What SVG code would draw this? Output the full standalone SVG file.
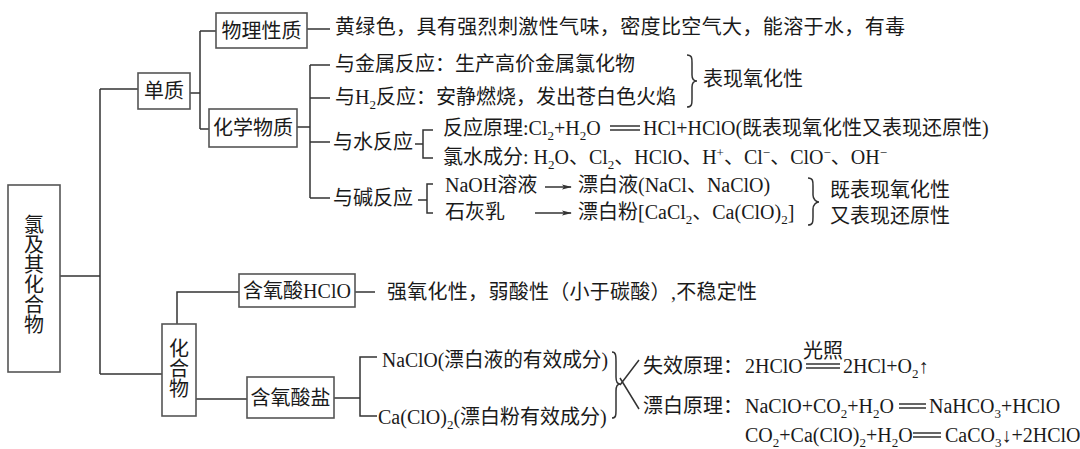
<svg xmlns="http://www.w3.org/2000/svg" width="1080" height="449" viewBox="0 0 1080 449">
<style>
text{font-family:'Liberation Serif','Noto Sans CJK SC',serif;font-size:20px;fill:#1a1a1a}
.box{fill:#fff;stroke:#555;stroke-width:1.6}
.ln{fill:none;stroke:#333;stroke-width:1.5}
.sm{font-size:13px}
.mid{text-anchor:middle}
</style>
<defs>
<marker id="ah" markerWidth="10" markerHeight="6" refX="9" refY="3" orient="auto" markerUnits="userSpaceOnUse"><path d="M0,0.5 L10,3 L0,5.5 L2,3 z" fill="#333"/></marker>
</defs>
<rect width="1080" height="449" fill="#fff"/>
<g id="connectors" class="ln">
<path d="M60,276 H100 M100,89 V374 M100,89 H138 M100,374 H162"/>
<path d="M190,93 H200 M200,31 V129 M200,31 H216 M200,129 H209"/>
<path d="M307,29 H330"/>
<path d="M297,127 H310 M310,65 V198 M310,65 H330 M310,98 H330 M310,142 H330 M310,198 H330"/>
<path d="M415,144 H423 M433,130 H423 V158 H433"/>
<path d="M418,200 H427 M433,184 H427 V213 H433"/>
<path d="M545,187 H571" marker-end="url(#ah)"/>
<path d="M535,213 H571" marker-end="url(#ah)"/>
<path d="M177,324 V292 H239"/>
<path d="M355,292 H375"/>
<path d="M196,399 H247"/>
<path d="M334,398 H360 M377,357 H360 V416 H377"/>
<path d="M687,55 C692,55 692,58 692,63 L692,75 C692,79 694,81 697,81 C694,81 692,83 692,87 L692,99 C692,104 692,107 687,107"/>
<path d="M808,178 C813,178 813,181 813,186 L813,195 C813,199 816,202 819,202 C816,202 813,205 813,209 L813,217 C813,222 813,225 808,225"/>
<path d="M612,352 C616,352 616,356 616,362 L616,377 C616,381 617,384 620,384 C617,384 616,387 616,391 L616,410 C616,415 616,418 612,418"/>
<path d="M639,360 L620,385 M620,378 L639,409"/>
</g>
<g id="equals" class="ln" stroke-width="1.3">
<path d="M610,126 H640 M610,130 H640"/>
<path d="M806,364 H840 M806,368 H840"/>
<path d="M899,404 H926 M899,408 H926"/>
<path d="M913,433 H941 M913,437 H941"/>
</g>
<g id="n-root"><rect class="box" x="8" y="185" width="52" height="187"/>
<text class="mid"><tspan x="34" y="232">氯</tspan><tspan x="34" y="252">及</tspan><tspan x="34" y="272">其</tspan><tspan x="34" y="292">化</tspan><tspan x="34" y="312">合</tspan><tspan x="34" y="332">物</tspan></text></g>
<g id="n-danzhi"><rect class="box" x="138" y="73" width="52" height="36"/><text class="mid" x="164" y="98">单质</text></g>
<g id="n-wuli"><rect class="box" x="216" y="13" width="91" height="35"/><text class="mid" x="261.5" y="38">物理性质</text></g>
<g id="n-huaxue"><rect class="box" x="209" y="109" width="88" height="38"/><text class="mid" x="253" y="135">化学物质</text></g>
<g id="n-huahewu"><rect class="box" x="162" y="324" width="34" height="92"/>
<text class="mid"><tspan x="179" y="356">化</tspan><tspan x="179" y="376">合</tspan><tspan x="179" y="396">物</tspan></text></g>
<g id="n-hclo"><rect class="box" x="239" y="274" width="116" height="33"/><text class="mid" x="297" y="298">含氧酸HClO</text></g>
<g id="n-yan"><rect class="box" x="247" y="377" width="87" height="41"/><text class="mid" x="290.5" y="405">含氧酸盐</text></g>
<g id="t-phys"><text x="335" y="34" textLength="570" lengthAdjust="spacing">黄绿色，具有强烈刺激性气味，密度比空气大，能溶于水，有毒</text></g>
<g id="t-metal"><text x="335" y="71">与金属反应：生产高价金属氯化物</text></g>
<g id="t-h2"><text x="335" y="104">与H<tspan class="sm" dy="5">2</tspan><tspan dy="-5">反应：安静燃烧，发出苍白色火焰</tspan></text></g>
<g id="t-ox"><text x="703" y="86">表现氧化性</text></g>
<g id="t-water"><text x="333" y="149">与水反应</text>
<text x="443" y="135">反应原理:Cl<tspan class="sm" dy="5">2</tspan><tspan dy="-5">+H</tspan><tspan class="sm" dy="5">2</tspan><tspan dy="-5">O</tspan></text>
<text x="643" y="135">HCl+HClO(既表现氧化性又表现还原性)</text>
<text x="443" y="164">氯水成分: H<tspan class="sm" dy="5">2</tspan><tspan dy="-5">O、Cl</tspan><tspan class="sm" dy="5">2</tspan><tspan dy="-5">、HClO、H</tspan><tspan class="sm" dy="-7">+</tspan><tspan dy="7">、Cl</tspan><tspan class="sm" dy="-7">−</tspan><tspan dy="7">、ClO</tspan><tspan class="sm" dy="-7">−</tspan><tspan dy="7">、OH</tspan><tspan class="sm" dy="-7">−</tspan></text></g>
<g id="t-base"><text x="333" y="205">与碱反应</text>
<text x="445" y="192">NaOH溶液</text>
<text x="578" y="192">漂白液(NaCl、NaClO)</text>
<text x="445" y="219">石灰乳</text>
<text x="578" y="219">漂白粉[CaCl<tspan class="sm" dy="5">2</tspan><tspan dy="-5">、Ca(ClO)</tspan><tspan class="sm" dy="5">2</tspan><tspan dy="-5">]</tspan></text>
<text x="830" y="197">既表现氧化性</text>
<text x="830" y="223">又表现还原性</text></g>
<g id="t-hclo"><text x="387" y="299" textLength="370" lengthAdjust="spacing">强氧化性，弱酸性（小于碳酸）,不稳定性</text></g>
<g id="t-naclo"><text x="382" y="367" textLength="226" lengthAdjust="spacingAndGlyphs">NaClO(漂白液的有效成分)</text></g>
<g id="t-caclo"><text x="378" y="424">Ca(ClO)<tspan class="sm" dy="5">2</tspan><tspan dy="-5">(漂白粉有效成分)</tspan></text></g>
<g id="t-fail"><text x="643" y="373">失效原理：</text>
<text x="745" y="373" font-size="18">2HClO</text>
<text class="mid" x="823" y="358" font-size="15">光照</text>
<text x="843" y="373">2HCl+O<tspan class="sm" dy="5">2</tspan><tspan dy="-5">↑</tspan></text></g>
<g id="t-bleach"><text x="643" y="413">漂白原理：</text>
<text x="745" y="413">NaClO+CO<tspan class="sm" dy="5">2</tspan><tspan dy="-5">+H</tspan><tspan class="sm" dy="5">2</tspan><tspan dy="-5">O</tspan></text>
<text x="929" y="413" font-size="19">NaHCO<tspan class="sm" dy="5">3</tspan><tspan dy="-5">+HClO</tspan></text>
<text x="745" y="442" font-size="18">CO<tspan class="sm" dy="5">2</tspan><tspan dy="-5">+Ca(ClO)</tspan><tspan class="sm" dy="5">2</tspan><tspan dy="-5">+H</tspan><tspan class="sm" dy="5">2</tspan><tspan dy="-5">O</tspan></text>
<text x="945" y="442" font-size="18">CaCO<tspan class="sm" dy="5">3</tspan><tspan dy="-5">↓+2HClO</tspan></text></g>
</svg>
